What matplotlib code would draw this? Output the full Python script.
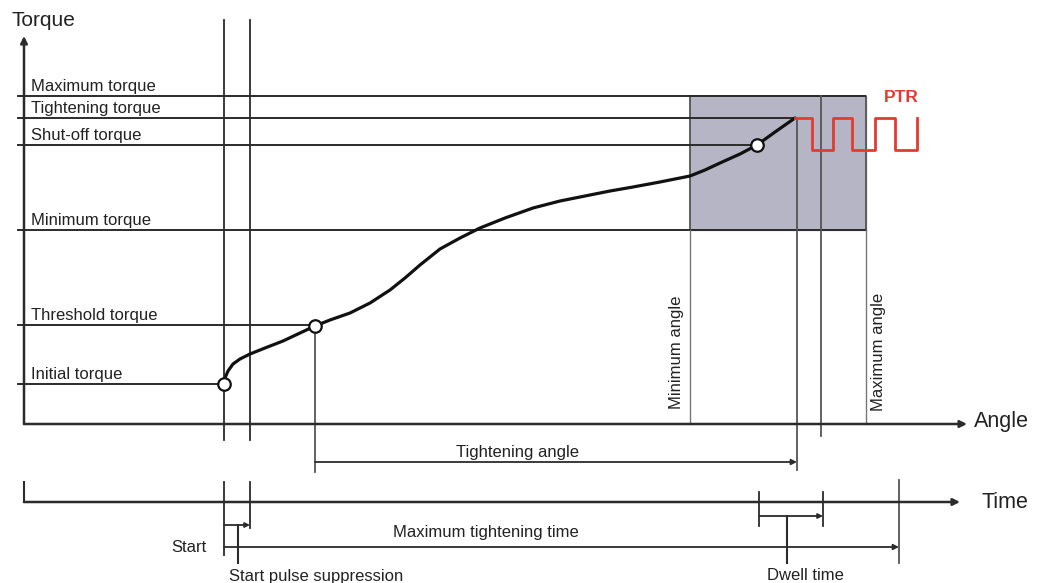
import matplotlib.pyplot as plt
import numpy as np

plt.rcParams['font.family'] = ['Liberation Sans', 'DejaVu Sans']

# torque levels (pixel-like diagram units, y grows downward)
torque_names = ['Maximum torque', 'Tightening torque', 'Shut-off torque',
                'Minimum torque', 'Threshold torque', 'Initial torque']
torque_y = [96, 118, 145, 230, 325, 384]
torque_end = [865, 795, 757, 865, 315, 222]

# tightening curve
curve_x = [224, 225, 228, 233, 240, 250, 265, 283, 300, 315, 330, 350, 370, 390, 405, 420,
           440, 460, 480, 505, 533, 560, 590, 610, 633, 660, 690, 705, 720, 740, 757, 775, 795]
curve_y = [384, 378, 371, 364, 359, 354, 348, 341, 333, 326, 320, 313, 303, 290, 278, 265,
           249, 238, 228, 218, 208, 201, 195, 191, 187, 182, 176, 170, 163, 154, 145, 132, 118]

# marked points on the curve
point_x = [224, 315, 757]
point_y = [384, 326, 145]

# PTR pulse train
ptr_x = [795, 812, 812, 833, 833, 852, 852, 875, 875, 895, 895, 917, 917]
ptr_y = [118, 118, 150, 150, 118, 118, 150, 150, 118, 118, 150, 150, 118]

# angle window
angle_min, angle_max = 690, 866
angle_end, dwell_end = 797, 821

# time events
t_start, t_suppr = 224, 250
dwell_a, dwell_b = 759, 823
t_max = 899

axis_y = 424
time_y = 502
dark = '#2b2b2b'
grey = '#555555'
txt = '#222222'

fig = plt.figure(figsize=(10.43, 5.83), dpi=100)
ax = fig.add_axes([0, 0, 1, 1])
ax.set_xlim(0, 1043)
ax.set_ylim(583, 0)
ax.axis('off')

# shaded acceptance window
ax.fill_between([angle_min, angle_max], torque_y[0], torque_y[3], color='#b5b5c5', zorder=1)
ax.plot([angle_min, angle_max, angle_max, angle_min, angle_min],
        [torque_y[0], torque_y[0], torque_y[3], torque_y[3], torque_y[0]], color=grey, lw=1.3, zorder=2)

# torque level lines and labels
for name, y, xe in zip(torque_names, torque_y, torque_end):
    ax.plot([18, xe], [y, y], color=dark, lw=1.4, zorder=2)
    ax.text(31, y - 2, name, fontsize=12, color=txt, va='bottom', ha='left')

# axes
ax.annotate('', xy=(24, 36), xytext=(24, axis_y), zorder=3,
            arrowprops=dict(arrowstyle='-|>', color=dark, lw=1.8, mutation_scale=10, shrinkA=0, shrinkB=0))
ax.annotate('', xy=(967, axis_y), xytext=(24, axis_y), zorder=3,
            arrowprops=dict(arrowstyle='-|>', color=dark, lw=1.8, mutation_scale=10, shrinkA=0, shrinkB=0))
ax.text(12, 20, 'Torque', fontsize=15, va='center', ha='left', color=txt)
ax.text(974, axis_y - 2, 'Angle', fontsize=15.5, va='center', ha='left', color=txt)

# vertical markers
ax.plot([t_start, t_start], [20, 440], color=dark, lw=1.3, zorder=2)
ax.plot([t_suppr, t_suppr], [20, 440], color=dark, lw=1.3, zorder=2)
ax.plot([point_x[1], point_x[1]], [point_y[1], 472], color=grey, lw=1.3, zorder=2)
ax.plot([angle_min, angle_min], [torque_y[3], axis_y], color='#777777', lw=1.0, zorder=2)
ax.plot([angle_max, angle_max], [torque_y[3], axis_y], color='#777777', lw=1.0, zorder=2)
ax.plot([angle_end, angle_end], [torque_y[1], 470], color=grey, lw=1.3, zorder=2)
ax.plot([dwell_end, dwell_end], [torque_y[0], 436], color=grey, lw=1.3, zorder=2)
ax.text(677, 352, 'Minimum angle', rotation=90, fontsize=12, va='center', ha='center', color=txt)
ax.text(878, 352, 'Maximum angle', rotation=90, fontsize=12, va='center', ha='center', color=txt)

# curve, points, PTR
ax.plot(curve_x, curve_y, color='#111111', lw=2.3, zorder=4, solid_capstyle='round', solid_joinstyle='round')
ax.plot(point_x, point_y, 'o', ms=9, mfc='white', mec='#111111', mew=1.6, zorder=5)
ax.plot(ptr_x, ptr_y, color='#e23b30', lw=2.0, zorder=4)
ax.text(884, 98, 'PTR', fontsize=12.5, fontweight='bold', color='#e23b30', va='center', ha='left')

# tightening angle
ax.annotate('', xy=(angle_end, 462), xytext=(point_x[1], 462),
            arrowprops=dict(arrowstyle='-|>', color=dark, lw=1.3, mutation_scale=8, shrinkA=0, shrinkB=0))
ax.text(517, 460, 'Tightening angle', fontsize=12, va='bottom', ha='center', color=txt)

# time axis
ax.plot([24, 24], [482, time_y], color=dark, lw=1.5)
ax.annotate('', xy=(960, time_y), xytext=(24, time_y),
            arrowprops=dict(arrowstyle='-|>', color=dark, lw=1.8, mutation_scale=10, shrinkA=0, shrinkB=0))
ax.text(982, time_y, 'Time', fontsize=15.5, va='center', ha='left', color=txt)

# start and start pulse suppression
ax.plot([t_start, t_start], [482, 555], color=dark, lw=1.3)
ax.plot([t_suppr, t_suppr], [482, 528], color=dark, lw=1.3)
ax.annotate('', xy=(t_suppr, 525), xytext=(t_start, 525),
            arrowprops=dict(arrowstyle='-|>', color=dark, lw=1.3, mutation_scale=7, shrinkA=0, shrinkB=0))
ax.plot([238, 238], [525, 563], color=dark, lw=1.5)
ax.text(207, 547, 'Start', fontsize=12, va='center', ha='right', color=txt)
ax.text(229, 576, 'Start pulse suppression', fontsize=12, va='center', ha='left', color=txt)

# maximum tightening time
ax.annotate('', xy=(t_max, 547), xytext=(t_start, 547),
            arrowprops=dict(arrowstyle='-|>', color=dark, lw=1.3, mutation_scale=8, shrinkA=0, shrinkB=0))
ax.plot([t_max, t_max], [480, 563], color=grey, lw=1.3)
ax.text(486, 532, 'Maximum tightening time', fontsize=12, va='center', ha='center', color=txt)

# dwell time
ax.plot([dwell_a, dwell_a], [492, 526], color=dark, lw=1.3)
ax.plot([dwell_b, dwell_b], [492, 526], color=dark, lw=1.3)
ax.annotate('', xy=(dwell_b, 516), xytext=(dwell_a, 516),
            arrowprops=dict(arrowstyle='-|>', color=dark, lw=1.3, mutation_scale=7, shrinkA=0, shrinkB=0))
ax.plot([787, 787], [516, 563], color=dark, lw=1.5)
ax.text(805, 576, 'Dwell time', fontsize=12, va='center', ha='center', color=txt)

fig.savefig('out.png', dpi=100)
